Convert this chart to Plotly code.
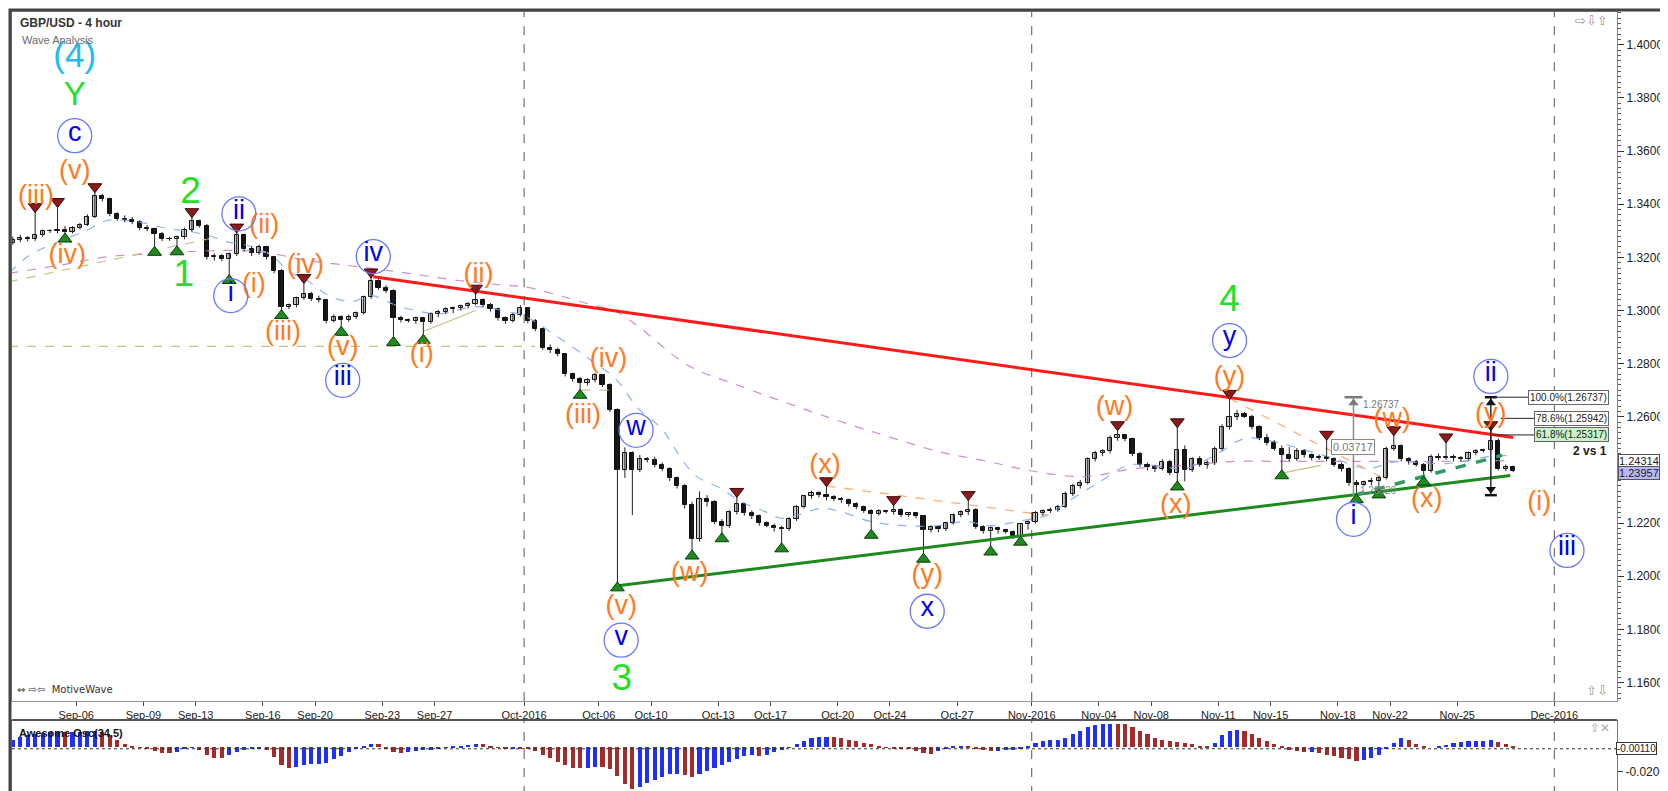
import datetime as dt
import plotly.graph_objects as go

# ---------------- data (8-hour bars; bar 0 = Sunday 4 Sep 2016 session) ----------------
FIRST_BAR = -5
PIP = 10000.0

opens = [13255, 13265, 13272, 13268, 13286,
    13300, 13298, 13304, 13296, 13312, 13322, 13352, 13432, 13418, 13362, 13346, 13340, 13334, 13310, 13306, 13288,
    13270, 13268, 13276, 13302, 13336, 13320, 13200, 13206, 13195, 13212, 13284, 13230, 13216, 13238, 13200, 13150,
    13012, 13020, 13046, 13062, 13045, 13040, 12962, 12976, 12966, 12976, 12990, 13050, 13110, 13086, 13075, 12970,
    12964, 12960, 12970, 12956, 12986, 12996, 13004, 13010, 13016, 13026, 13040, 13020, 13005, 12970, 12960, 12985,
    13010, 12960, 12930, 12860, 12852, 12836, 12760, 12742, 12726, 12738, 12756, 12720, 12625, 12400, 12462, 12400,
    12442, 12436, 12420, 12404, 12368, 12340, 12268, 12140, 12292, 12280, 12204, 12190, 12240, 12270, 12236, 12225,
    12200, 12190, 12180, 12176, 12215, 12260, 12300, 12312, 12305, 12298, 12290, 12285, 12270, 12260, 12245, 12235,
    12246, 12240, 12250, 12230, 12236, 12226, 12175, 12186, 12176, 12200, 12230, 12240, 12250, 12186, 12170, 12180,
    12172, 12166, 12152, 12195, 12205, 12236, 12245, 12250, 12262, 12310, 12340, 12352, 12440, 12465, 12470, 12520,
    12530, 12515, 12460, 12420, 12410, 12405, 12430, 12390, 12475, 12400, 12440, 12420, 12425, 12480, 12560, 12600,
    12610, 12600, 12560, 12520, 12500, 12480, 12456, 12440, 12470, 12455, 12445, 12450, 12440, 12420, 12405, 12350,
    12345, 12355, 12360, 12370, 12480, 12490, 12440, 12430, 12420, 12395, 12450, 12445, 12450, 12445, 12440, 12462,
    12470, 12475, 12510, 12405, 12410]
highs = [13278, 13285, 13280, 13377, 13305,
    13306, 13396, 13318, 13318, 13330, 13362, 13452, 13440, 13425, 13370, 13358, 13352, 13340, 13322, 13312, 13295,
    13278, 13282, 13312, 13358, 13342, 13326, 13215, 13212, 13218, 13300, 13290, 13242, 13248, 13244, 13206, 13156,
    13026, 13052, 13110, 13070, 13056, 13044, 12985, 12982, 12984, 12996, 13056, 13131, 13118, 13095, 13080, 12980,
    12970, 12978, 12976, 12992, 13002, 13012, 13015, 13022, 13032, 13070, 13046, 13028, 13010, 12978, 12990, 13020,
    13012, 12968, 12935, 12872, 12860, 12840, 12766, 12750, 12745, 12765, 12760, 12726, 12632, 12485, 12470, 12456,
    12448, 12450, 12428, 12410, 12375, 12346, 12280, 12319, 12305, 12286, 12215, 12248, 12305, 12276, 12248, 12232,
    12206, 12198, 12190, 12222, 12268, 12306, 12322, 12320, 12345, 12305, 12298, 12292, 12278, 12266, 12252, 12252,
    12250, 12274, 12256, 12242, 12240, 12230, 12192, 12190, 12205, 12236, 12248, 12293, 12256, 12192, 12188, 12186,
    12178, 12172, 12200, 12210, 12245, 12252, 12258, 12268, 12318, 12348, 12362, 12448, 12472, 12478, 12530, 12556,
    12535, 12522, 12468, 12428, 12418, 12440, 12438, 12567, 12492, 12448, 12452, 12436, 12488, 12572, 12674, 12625,
    12618, 12608, 12568, 12535, 12512, 12492, 12486, 12482, 12478, 12462, 12458, 12520, 12448, 12428, 12410, 12362,
    12360, 12370, 12378, 12488, 12537, 12496, 12448, 12438, 12426, 12458, 12462, 12510, 12458, 12452, 12470, 12478,
    12480, 12556, 12518, 12420, 12416]
lows = [13248, 13258, 13260, 13262, 13278,
    13292, 13290, 13283, 13290, 13305, 13318, 13348, 13410, 13355, 13338, 13332, 13325, 13302, 13298, 13233, 13262,
    13262, 13235, 13268, 13296, 13312, 13192, 13188, 13185, 13127, 13205, 13222, 13205, 13210, 13192, 13140, 12995,
    13005, 13012, 13040, 13036, 13030, 12952, 12955, 12932, 12958, 12968, 12985, 13044, 13078, 13066, 12894, 12955,
    12955, 12950, 12902, 12950, 12975, 12988, 12990, 13000, 13008, 13020, 13012, 12996, 12962, 12950, 12955, 12978,
    12952, 12922, 12852, 12840, 12828, 12752, 12732, 12695, 12718, 12730, 12712, 12618, 11970, 12370, 12230, 12392,
    12428, 12410, 12395, 12358, 12330, 12255, 12090, 12130, 12262, 12196, 12155, 12182, 12232, 12228, 12215, 12190,
    12184, 12168, 12117, 12170, 12208, 12255, 12292, 12296, 12285, 12282, 12276, 12262, 12252, 12238, 12168, 12228,
    12236, 12232, 12222, 12224, 12218, 12078, 12165, 12166, 12170, 12195, 12222, 12230, 12178, 12160, 12105, 12160,
    12160, 12140, 12142, 12175, 12198, 12228, 12238, 12242, 12256, 12302, 12330, 12345, 12432, 12452, 12462, 12510,
    12508, 12452, 12412, 12398, 12392, 12398, 12380, 12350, 12357, 12392, 12412, 12405, 12418, 12472, 12552, 12588,
    12596, 12552, 12512, 12492, 12472, 12392, 12430, 12434, 12446, 12436, 12438, 12432, 12412, 12394, 12340, 12302,
    12340, 12342, 12320, 12365, 12472, 12432, 12420, 12412, 12368, 12390, 12436, 12438, 12432, 12432, 12436, 12455,
    12466, 12470, 12398, 12395, 12392]
closes = [13265, 13272, 13268, 13286, 13300,
    13298, 13304, 13296, 13312, 13322, 13352, 13432, 13418, 13362, 13346, 13340, 13334, 13310, 13306, 13288, 13270,
    13268, 13276, 13302, 13336, 13320, 13200, 13206, 13195, 13212, 13284, 13230, 13216, 13238, 13200, 13150, 13012,
    13020, 13046, 13062, 13045, 13040, 12962, 12976, 12966, 12976, 12990, 13050, 13110, 13086, 13075, 12970, 12964,
    12960, 12970, 12956, 12986, 12996, 13004, 13010, 13016, 13026, 13040, 13020, 13005, 12970, 12960, 12985, 13010,
    12960, 12930, 12860, 12852, 12836, 12760, 12742, 12726, 12738, 12756, 12720, 12625, 12400, 12462, 12400, 12442,
    12436, 12420, 12404, 12368, 12340, 12268, 12140, 12292, 12280, 12204, 12190, 12240, 12270, 12236, 12225, 12200,
    12190, 12180, 12176, 12215, 12260, 12300, 12312, 12305, 12298, 12290, 12285, 12270, 12260, 12245, 12235, 12246,
    12240, 12250, 12230, 12236, 12226, 12175, 12186, 12176, 12200, 12230, 12240, 12250, 12186, 12170, 12180, 12172,
    12166, 12152, 12195, 12205, 12236, 12245, 12250, 12262, 12310, 12340, 12352, 12440, 12465, 12470, 12520, 12530,
    12515, 12460, 12420, 12410, 12405, 12430, 12390, 12475, 12400, 12440, 12420, 12425, 12480, 12560, 12600, 12610,
    12600, 12560, 12520, 12500, 12480, 12456, 12440, 12470, 12455, 12445, 12450, 12440, 12420, 12405, 12350, 12345,
    12355, 12360, 12370, 12480, 12490, 12440, 12430, 12420, 12395, 12450, 12445, 12450, 12445, 12440, 12462, 12470,
    12475, 12510, 12405, 12410, 12396]

# Awesome Oscillator (34,5), in units of 0.0001
ao_values = [60, 90, 105, 115, 120,
    125, 130, 125, 128, 132, 135, 140, 130, 100, 60, 30, 5, -5, -15, -30, -45,
    -50, -35, -15, -5, -20, -60, -85, -90, -65, -40, -20, -15, -10, -20, -80, -150,
    -175, -165, -150, -140, -140, -130, -100, -70, -40, -10, 15, 30, 25, -15, -40, -45,
    -35, -30, -25, -20, -15, -5, 5, 15, 20, 28, 25, 10, -5, -10, -8, -10,
    -15, -30, -60, -90, -120, -150, -170, -176, -170, -165, -168, -180, -240, -310, -350, -330,
    -300, -270, -245, -225, -220, -235, -245, -225, -200, -175, -150, -120, -95, -75, -65, -68,
    -60, -40, -20, -5, 25, 55, 75, 85, 90, 85, 75, 65, 50, 40, 30, 10,
    -5, -8, -10, -15, -30, -50, -55, -30, -10, 5, 15, 12, -10, -25, -30, -30,
    -25, -20, -10, 5, 40, 55, 60, 65, 80, 110, 140, 170, 190, 198, 200, 198,
    195, 170, 140, 110, 80, 60, 50, 45, 35, 25, 15, 10, 40, 100, 140, 148,
    140, 110, 80, 55, 30, 5, -20, -30, -35, -35, -45, -60, -75, -90, -100, -110,
    -108, -90, -60, -10, 40, 75, 60, 30, 5, 0, 5, 20, 35, 45, 50, 55,
    55, 60, 45, 25, 15]

swing_high_bars = [-2, 1, 6, 19, 25, 34, 43, 57, 92, 104, 113, 123, 143, 151, 158, 171, 180, 187, 193]
swing_low_bars = [2, 14, 17, 24, 31, 39, 46, 50, 71, 76, 86, 90, 98, 110, 117, 126, 130, 151, 165, 175, 178, 184]

ma_fast_bar = [-5.5, -2.8, 1.2, 4.8, 7.5, 11.5, 15.5, 18.2, 21.3, 23.5, 26.6, 29.7, 32, 34.6, 37.3, 40.4, 43.1,
    46.3, 49.8, 52.4, 57, 61.4, 63.5, 67.7, 72.1, 75.7, 78.8, 81.9, 83.7, 86.4, 89.9, 92.6, 95.8, 97.9, 100.2,
    103.3, 105.9, 109.9, 114.5, 118.9, 122.9, 125.6, 130.4, 133.6, 136.3, 140.7, 144.4, 148, 152, 156, 160,
    163.1, 167.5, 172, 176.5, 180.1, 187.2, 193.9, 196]
ma_fast_val = [1.3140, 1.3207, 1.3260, 1.3300, 1.3338, 1.3335, 1.3310, 1.3300, 1.3282, 1.3260, 1.3244, 1.3207,
    1.3146, 1.3110, 1.3056, 1.3034, 1.3056, 1.3020, 1.2995, 1.2988, 1.3015, 1.2995, 1.2980, 1.2906, 1.2820,
    1.2744, 1.2631, 1.2556, 1.2480, 1.2380, 1.2330, 1.2280, 1.2243, 1.2218, 1.2230, 1.2255, 1.2243, 1.2206,
    1.2190, 1.2190, 1.2206, 1.2190, 1.2210, 1.2230, 1.2280, 1.2357, 1.2417, 1.2417, 1.2405, 1.2455, 1.2518,
    1.2511, 1.2480, 1.2443, 1.2405, 1.2430, 1.2424, 1.2455, 1.2450]
ma_slow_bar = [-5.5, 1.2, 7.9, 14.6, 21.3, 27.9, 34.6, 41.3, 48, 54.7, 61.4, 63.5, 72.1, 75.7, 78.8, 85.5, 92.2,
    98.9, 105.5, 112.2, 118.9, 125.6, 131.9, 138.6, 145.3, 152, 158.7, 165.4, 172, 178.7, 187.2, 196]
ma_slow_val = [1.3140, 1.3170, 1.3203, 1.3214, 1.3225, 1.3222, 1.3188, 1.3165, 1.3140, 1.3113, 1.3094, 1.3090,
    1.3025, 1.2997, 1.2940, 1.2793, 1.2718, 1.2650, 1.2586, 1.2526, 1.2470, 1.2432, 1.2394, 1.2375, 1.2405,
    1.2417, 1.2432, 1.2432, 1.2432, 1.2432, 1.2432, 1.2436]

tick_dates = ["2016-09-06", "2016-09-09", "2016-09-13", "2016-09-16", "2016-09-20", "2016-09-23", "2016-09-27",
    "2016-10-02", "2016-10-06", "2016-10-10", "2016-10-13", "2016-10-17", "2016-10-20", "2016-10-24",
    "2016-10-27", "2016-11-01", "2016-11-04", "2016-11-08", "2016-11-11", "2016-11-15", "2016-11-18",
    "2016-11-22", "2016-11-25", "2016-12-01"]
tick_text = ["Sep-06", "Sep-09", "Sep-13", "Sep-16", "Sep-20", "Sep-23", "Sep-27", "Oct-2016", "Oct-06",
    "Oct-10", "Oct-13", "Oct-17", "Oct-20", "Oct-24", "Oct-27", "Nov-2016", "Nov-04", "Nov-08", "Nov-11",
    "Nov-15", "Nov-18", "Nov-22", "Nov-25", "Dec-2016"]
month_dates = ["2016-10-02", "2016-11-01", "2016-12-01"]

# trend lines (bar, price)
red_line_bar, red_line_val = [43.3, 196.0], [1.3127, 1.2522]
green_line_bar, green_line_val = [76.3, 195.6], [1.1965, 1.2379]
green_dash_bar, green_dash_val = [174.7, 194.5], [1.2305, 1.2455]
orange_dash_segments = [([104, 133.6], [1.2340, 1.2229]), ([158, 178.2], [1.2669, 1.2375])]
khaki_dash_segments = [([-5.5, 65], [1.2865, 1.2865]), ([71.2, 75.7], [1.2700, 1.2700]),
                       ([-5.5, 21.3], [1.3108, 1.3270])]
khaki_solid_segments = [([50, 57], [1.2921, 1.3000]), ([164.8, 170.2], [1.2387, 1.2417])]

# wave labels (bar, price, text)
orange_labels = [(3.3, 1.3522, "(v)"), (-1.9, 1.3428, "(iii)"), (2.3, 1.3203, "(iv)"), (28.7, 1.3319, "(ii)"),
    (27.3, 1.3094, "(i)"), (34.2, 1.3165, "(iv)"), (31.2, 1.2913, "(iii)"), (39.2, 1.2857, "(v)"),
    (49.8, 1.2830, "(i)"), (57.4, 1.3131, "(ii)"), (74.8, 1.2812, "(iv)"), (71.4, 1.2601, "(iii)"),
    (103.8, 1.2413, "(x)"), (85.7, 1.2007, "(w)"), (76.5, 1.1883, "(v)"), (117.5, 1.2000, "(y)"),
    (158, 1.2744, "(y)"), (142.6, 1.2631, "(w)"), (150.8, 1.2265, "(x)"), (179.8, 1.2586, "(w)"),
    (184.4, 1.2285, "(x)"), (193, 1.2605, "(y)"), (199.5, 1.2274, "(i)")]
green_labels = [(18.8, 1.3439, "2"), (17.9, 1.3127, "1"), (76.6, 1.1605, "3"), (158, 1.3034, "4")]
green_letter = [(3.3, 1.3804, "Y")]
cyan_labels = [(3.3, 1.3951, "(4)")]
blue_labels = [(3.3, 1.3658, "c"), (25.3, 1.3364, "ii"), (24.2, 1.3056, "i"), (43.3, 1.3203, "iv"),
    (39.2, 1.2737, "iii"), (78.5, 1.2549, "w"), (76.5, 1.1759, "v"), (117.5, 1.1868, "x"),
    (158, 1.2887, "y"), (174.6, 1.2214, "i"), (193, 1.2752, "ii"), (203.2, 1.2097, "iii")]

# Fibonacci / measurement tools
fib_bar = 193
fib_low = 1.2305
fib_levels = [1.26737, 1.25942, 1.25317]
fib_names = ["100.0%", "78.6%", "61.8%"]
meas_bar = 174.6
meas_top, meas_bottom = 1.26737, 1.2302
meas_size = "0.03717"
last_prices = [1.24314, 1.23957]
ao_marker_value = -0.00110

# ---------------- helpers ----------------
BASE = dt.date(2016, 9, 4)  # Sunday


def slot_of(dstr):
    d = dt.date.fromisoformat(dstr)
    w, wd = divmod((d - BASE).days, 7)
    return 32 * w if wd == 0 else 32 * w + 2 + 6 * (wd - 1)


def bar_pos(dstr):
    return (slot_of(dstr) - 1) / 2.0


bars = list(range(FIRST_BAR, FIRST_BAR + len(closes)))
o = [v / PIP for v in opens]
h = [v / PIP for v in highs]
l = [v / PIP for v in lows]
c = [v / PIP for v in closes]
ao = [v / PIP for v in ao_values]
ao_bars = list(range(FIRST_BAR, FIRST_BAR + len(ao)))
ao_colors = ["#1f2fff" if (i == 0 or ao[i] >= ao[i - 1]) else "#a52a2a" for i in range(len(ao))]

FONT = "Liberation Sans, Arial, sans-serif"
W, H = 1668, 791
ML, MR, MT, MB = 3, 58, 3, 4
PW, PH = W - ML - MR, H - MT - MB


def ypaper(px):
    return (H - MB - px) / PH


def xpaper(px):
    return (px - ML) / PW


X_RANGE = [-5.1, 209.9]
Y_RANGE = [1.15297, 1.41237]
AO_RANGE = [-0.0398, 0.0221]
BODY_W = 0.56
MIN_BODY = 0.00016

fig = go.Figure()

# moving averages and helper lines (under candles)
fig.add_trace(go.Scatter(x=ma_slow_bar, y=ma_slow_val, mode="lines", hoverinfo="skip",
                         line=dict(color="#c98fc9", width=1.2, dash="dash", shape="spline")))
fig.add_trace(go.Scatter(x=ma_fast_bar, y=ma_fast_val, mode="lines", hoverinfo="skip",
                         line=dict(color="#8fb0f5", width=1.2, dash="dash", shape="spline")))
for xs, ys in khaki_dash_segments:
    fig.add_trace(go.Scatter(x=xs, y=ys, mode="lines", hoverinfo="skip",
                             line=dict(color="#c8c27a", width=1.2, dash="dash")))
for xs, ys in khaki_solid_segments:
    fig.add_trace(go.Scatter(x=xs, y=ys, mode="lines", hoverinfo="skip",
                             line=dict(color="#c8c27a", width=1.2)))
for xs, ys in orange_dash_segments:
    fig.add_trace(go.Scatter(x=xs, y=ys, mode="lines", hoverinfo="skip",
                             line=dict(color="#ffae78", width=1.3, dash="dash")))

# candles: wicks + bodies
wick_x, wick_y = [], []
for b, hh, ll in zip(bars, h, l):
    wick_x += [b, b, None]
    wick_y += [ll, hh, None]
fig.add_trace(go.Scatter(x=wick_x, y=wick_y, mode="lines", hoverinfo="skip",
                         line=dict(color="#222", width=1)))
up = [i for i in range(len(bars)) if c[i] >= o[i]]
dn = [i for i in range(len(bars)) if c[i] < o[i]]
for sel, fill in ((up, "#c9c9c9"), (dn, "#111111")):
    fig.add_trace(go.Bar(
        x=[bars[i] for i in sel],
        base=[min(o[i], c[i]) for i in sel],
        y=[max(abs(c[i] - o[i]), MIN_BODY) for i in sel],
        width=BODY_W, hoverinfo="skip",
        marker=dict(color=fill, line=dict(color="#111", width=1))))

# trend lines
fig.add_trace(go.Scatter(x=green_line_bar, y=green_line_val, mode="lines", hoverinfo="skip",
                         line=dict(color="#1d8a1d", width=3)))
fig.add_trace(go.Scatter(x=green_dash_bar, y=green_dash_val, mode="lines", hoverinfo="skip",
                         line=dict(color="#2f9b63", width=3.5, dash="dash")))
fig.add_trace(go.Scatter(x=red_line_bar, y=red_line_val, mode="lines", hoverinfo="skip",
                         line=dict(color="#ff1a1a", width=3)))

# swing markers
idx = {b: i for i, b in enumerate(bars)}
fig.add_trace(go.Scatter(x=swing_high_bars, y=[h[idx[b]] + 0.0014 for b in swing_high_bars], mode="markers",
                         hoverinfo="skip",
                         marker=dict(symbol="triangle-down", size=12, color="#8b1a1a",
                                     line=dict(color="#3a0a0a", width=1))))
fig.add_trace(go.Scatter(x=swing_low_bars, y=[l[idx[b]] - 0.0014 for b in swing_low_bars], mode="markers",
                         hoverinfo="skip",
                         marker=dict(symbol="triangle-up", size=12, color="#1f8b1f",
                                     line=dict(color="#0b3b0b", width=1))))

# fib tool and measure tool
fig.add_trace(go.Scatter(x=[fib_bar, fib_bar], y=[fib_low, fib_levels[0]], mode="lines", hoverinfo="skip",
                         line=dict(color="#111", width=1.3)))
for yv in (fib_levels[0], fib_low):
    fig.add_trace(go.Scatter(x=[fib_bar - 0.8, fib_bar + 0.8], y=[yv, yv], mode="lines", hoverinfo="skip",
                             line=dict(color="#111", width=2.5)))
fig.add_trace(go.Scatter(x=[fib_bar, fib_bar], y=[fib_levels[0] - 0.0022, fib_low + 0.0022], mode="markers",
                         hoverinfo="skip",
                         marker=dict(symbol=["triangle-up", "triangle-down"], size=9, color="#111")))
fib_line_start = [fib_bar, fib_bar + 1.3, fib_bar + 0.3]
fib_line_end = [198.3, 199.0, 199.0]
for yv, x0, x1 in zip(fib_levels, fib_line_start, fib_line_end):
    fig.add_trace(go.Scatter(x=[x0, x1], y=[yv, yv], mode="lines", hoverinfo="skip",
                             line=dict(color="#222", width=1)))
fig.add_trace(go.Scatter(x=[meas_bar, meas_bar], y=[meas_bottom, meas_top], mode="lines", hoverinfo="skip",
                         line=dict(color="#8c8c8c", width=1.5)))
fig.add_trace(go.Scatter(x=[meas_bar - 1.2, meas_bar + 1.2], y=[meas_top, meas_top], mode="lines",
                         hoverinfo="skip", line=dict(color="#7a7a7a", width=2.5)))
fig.add_trace(go.Scatter(x=[meas_bar], y=[meas_top - 0.0022], mode="markers", hoverinfo="skip",
                         marker=dict(symbol="triangle-up", size=9, color="#7a7a7a")))


# wave labels
def text_trace(items, size, color, family=FONT):
    return go.Scatter(x=[t[0] for t in items], y=[t[1] for t in items], text=[t[2] for t in items],
                      mode="text", textposition="middle center", hoverinfo="skip", cliponaxis=False,
                      textfont=dict(family=family, size=size, color=color))


fig.add_trace(text_trace(orange_labels, 27, "#ff7a22"))
fig.add_trace(text_trace(green_labels, 37, "#22e022"))
fig.add_trace(text_trace(green_letter, 33, "#22e022"))
fig.add_trace(text_trace(cyan_labels, 35, "#22bbee"))
fig.add_trace(go.Scatter(x=[t[0] for t in blue_labels], y=[t[1] for t in blue_labels], mode="markers",
                         hoverinfo="skip", cliponaxis=False,
                         marker=dict(symbol="circle-open", size=34, color="#6a78ff", line=dict(width=1.3))))
fig.add_trace(go.Scatter(x=[t[0] for t in blue_labels], y=[t[1] + 0.0007 for t in blue_labels],
                         text=[t[2] for t in blue_labels], mode="text", textposition="middle center",
                         hoverinfo="skip", cliponaxis=False,
                         textfont=dict(family=FONT, size=27, color="#0000ee")))

# awesome oscillator
fig.add_trace(go.Bar(x=ao_bars, y=ao, marker=dict(color=ao_colors, line=dict(width=0)), width=0.55,
                     xaxis="x2", yaxis="y2", hoverinfo="skip"))

tickvals = [bar_pos(d) for d in tick_dates]

shapes = []
for d in month_dates:
    xb = bar_pos(d)
    for yref in ("y domain", "y2 domain"):
        shapes.append(dict(type="line", xref="x", yref=yref, x0=xb, x1=xb, y0=0, y1=1,
                           line=dict(color="#555", width=1, dash="dash")))
shapes.append(dict(type="line", xref="x2 domain", yref="y2", x0=0, x1=1, y0=ao_marker_value,
                   y1=ao_marker_value, line=dict(color="#333", width=1, dash="dot")))
shapes.append(dict(type="line", xref="paper", yref="paper", x0=0, x1=1, y0=ypaper(712), y1=ypaper(712),
                   line=dict(color="#555", width=2)))
shapes.append(dict(type="rect", xref="paper", yref="paper", x0=xpaper(1), x1=xpaper(1667), y0=ypaper(790),
                   y1=ypaper(1), line=dict(color="#444", width=3)))

ann = []


def add_ann(**kw):
    base = dict(showarrow=False, font=dict(family=FONT, size=11, color="#222"))
    base.update(kw)
    ann.append(base)


add_ann(xref="paper", yref="paper", x=xpaper(9), y=ypaper(14), xanchor="left", yanchor="middle",
        text="<b>GBP/USD - 4 hour</b>", font=dict(family=FONT, size=12, color="#333"))
add_ann(xref="paper", yref="paper", x=xpaper(11), y=ypaper(31), xanchor="left", yanchor="middle",
        text="Wave Analysis", font=dict(family=FONT, size=11, color="#6a6a6a"))
add_ann(xref="paper", yref="paper", x=xpaper(6), y=ypaper(681), xanchor="left", yanchor="middle",
        text="⇔ ⇨⇦  MotiveWave", font=dict(family="DejaVu Sans, " + FONT, size=10, color="#333"))
add_ann(xref="paper", yref="paper", x=xpaper(8), y=ypaper(725), xanchor="left", yanchor="middle",
        text="<b>Awesome Osc(34,5)</b>", font=dict(family=FONT, size=11, color="#111"))
add_ann(xref="paper", yref="paper", x=xpaper(1603), y=ypaper(12), xanchor="right", yanchor="middle",
        text="⇨⇩⇧", font=dict(family="DejaVu Sans", size=13, color="#999"))
add_ann(xref="paper", yref="paper", x=xpaper(1603), y=ypaper(682), xanchor="right", yanchor="middle",
        text="⇧⇩", font=dict(family="DejaVu Sans", size=13, color="#999"))
add_ann(xref="paper", yref="paper", x=xpaper(1605), y=ypaper(720), xanchor="right", yanchor="middle",
        text="⇧✕", font=dict(family="DejaVu Sans", size=12, color="#aaa"))

for name, lvl in zip(fib_names, fib_levels):
    add_ann(xref="x", yref="y", x=208.8, y=lvl, xanchor="right", yanchor="middle",
            text=f"{name}({lvl:.5f})", bgcolor="#c8f2c8" if name == "61.8%" else "white",
            bordercolor="#666", borderwidth=1, borderpad=1, font=dict(family=FONT, size=10, color="#222"))
add_ann(xref="x", yref="y", x=208.8, y=1.2473, xanchor="right", yanchor="middle", text="<b>2 vs 1</b>",
        font=dict(family=FONT, size=12, color="#222"))
add_ann(xref="x", yref="y", x=178.4, y=1.2645, xanchor="center", yanchor="middle", text=f"{meas_top:.5f}",
        font=dict(family=FONT, size=10, color="#777"))
add_ann(xref="x", yref="y", x=meas_bar, y=1.2486, xanchor="center", yanchor="middle", text=meas_size,
        bgcolor="white", bordercolor="#888", borderwidth=1, borderpad=1,
        font=dict(family=FONT, size=11, color="#777"))
add_ann(xref="x", yref="y", x=178.0, y=1.2322, xanchor="center", yanchor="middle", text=f"{meas_bottom:.5f}",
        font=dict(family=FONT, size=10, color="#888"))
add_ann(xref="paper", yref="y", x=xpaper(1611), y=last_prices[0] + 0.0003, xanchor="left", yanchor="middle",
        text=f"{last_prices[0]:.5f}", bgcolor="white", bordercolor="#555", borderwidth=1, borderpad=0,
        font=dict(family=FONT, size=11, color="#222"))
add_ann(xref="paper", yref="y", x=xpaper(1611), y=last_prices[1] - 0.0006, xanchor="left", yanchor="middle",
        text=f"{last_prices[1]:.5f}", bgcolor="#b8b8f2", bordercolor="#555", borderwidth=1, borderpad=0,
        font=dict(family=FONT, size=11, color="#222"))
add_ann(xref="paper", yref="y2", x=xpaper(1609), y=ao_marker_value, xanchor="left", yanchor="middle",
        text=f"{ao_marker_value:.5f}", bgcolor="white", bordercolor="#333", borderwidth=1, borderpad=0,
        font=dict(family=FONT, size=10, color="#222"))

fig.update_layout(
    width=W, height=H, margin=dict(l=ML, r=MR, t=MT, b=MB), showlegend=False,
    paper_bgcolor="white", plot_bgcolor="white", barmode="overlay", bargap=0,
    xaxis=dict(domain=[0, 1], anchor="y", range=X_RANGE, tickvals=tickvals, ticktext=tick_text,
               ticks="outside", ticklen=4, tickcolor="#444", showline=True, linecolor="#999", mirror=True,
               showgrid=False, zeroline=False,
               tickfont=dict(family=FONT, size=11, color="#222")),
    xaxis2=dict(domain=[0, 1], anchor="y2", matches="x", range=X_RANGE, showticklabels=False, ticks="",
                showline=True, linecolor="#777", mirror=True, showgrid=False, zeroline=False),
    yaxis=dict(domain=[ypaper(693), ypaper(3)], side="right", range=Y_RANGE, tick0=1.16, dtick=0.02,
               tickformat=".5f", ticks="outside", ticklen=6, tickcolor="#333", showline=True,
               linecolor="#888", mirror=True, showgrid=False, zeroline=False,
               tickfont=dict(family=FONT, size=12, color="#222"),
               minor=dict(dtick=0.002, tick0=1.16, ticks="outside", ticklen=3, tickcolor="#555")),
    yaxis2=dict(domain=[ypaper(787), ypaper(713)], side="right", range=AO_RANGE, tickvals=[-0.02],
                ticktext=["-0.02000"], ticks="outside", ticklen=5, tickcolor="#333", showline=True,
                linecolor="#777", mirror=True, showgrid=False, zeroline=False,
                tickfont=dict(family=FONT, size=12, color="#222")),
    shapes=shapes, annotations=ann,
)

fig.write_html("out.html", config={"displayModeBar": False})
